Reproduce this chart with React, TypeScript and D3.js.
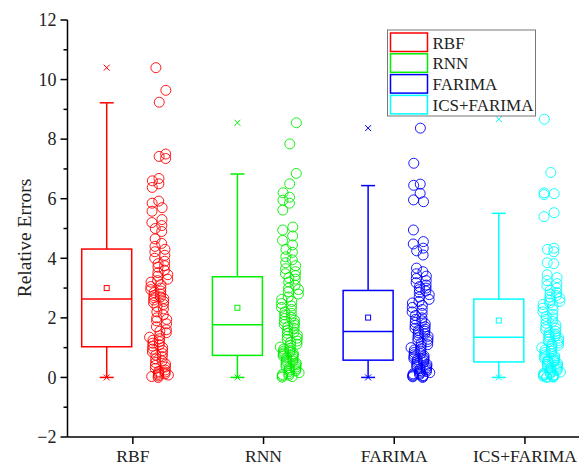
import React from "react";
import * as d3 from "d3";

const categories = ["RBF", "RNN", "FARIMA", "ICS+FARIMA"];
const colors = ["#ff0000", "#00ee00", "#0000ff", "#00ffff"];

// Box statistics
const q1 = [1.03, 0.74, 0.58, 0.52];
const medians = [2.63, 1.77, 1.54, 1.35];
const q3 = [4.31, 3.38, 2.92, 2.63];
const whiskerLow = [0, 0, 0, 0];
const whiskerHigh = [9.22, 6.83, 6.44, 5.51];
const means = [3.0, 2.34, 2.01, 1.91];
const minVals = [0, 0, 0, 0];
const maxVals = [10.4, 8.55, 8.37, 8.67];

const rbfValues = [
  10.4, 9.64, 9.24, 7.5, 7.42, 7.35, 6.68, 6.6, 6.5, 6.38, 5.92, 5.85, 5.7, 5.58, 5.3, 5.2, 5.1, 5.0, 4.9, 4.65, 4.5, 4.4, 4.3, 4.22,
  4.1, 4.0, 3.9, 3.82, 3.75, 3.7, 3.6, 3.52, 3.45, 3.4, 3.3, 3.25, 3.2, 3.12, 3.05, 3.0, 2.95, 2.9, 2.85, 2.8, 2.75, 2.7, 2.68, 2.65,
  2.6, 2.55, 2.5, 2.45, 2.38, 2.3, 2.2, 2.1, 2.0, 1.95, 1.9, 1.8, 1.7, 1.6, 1.55, 1.5, 1.4, 1.35, 1.3, 1.25, 1.2, 1.15, 1.1, 1.05,
  1.0, 0.95, 0.9, 0.85, 0.8, 0.75, 0.7, 0.62, 0.55, 0.5, 0.45, 0.4, 0.35, 0.3, 0.25, 0.2, 0.18, 0.15, 0.12, 0.1, 0.08, 0.05, 0.03, 0.0,
];
const rnnValues = [
  8.55, 7.84, 6.85, 6.5, 6.2, 6.05, 5.95, 5.85, 5.62, 5.05, 4.95, 4.75, 4.6, 4.45, 4.3, 4.2, 4.05, 3.95, 3.85, 3.75, 3.65, 3.55, 3.48, 3.42,
  3.35, 3.3, 3.2, 3.1, 3.0, 2.95, 2.88, 2.8, 2.7, 2.62, 2.55, 2.48, 2.4, 2.35, 2.28, 2.2, 2.15, 2.1, 2.02, 1.98, 1.92, 1.88, 1.82, 1.78,
  1.75, 1.7, 1.65, 1.58, 1.52, 1.48, 1.42, 1.38, 1.32, 1.28, 1.22, 1.18, 1.12, 1.08, 1.02, 0.98, 0.95, 0.9, 0.88, 0.85, 0.82, 0.8, 0.78, 0.75,
  0.72, 0.7, 0.66, 0.62, 0.58, 0.55, 0.52, 0.48, 0.45, 0.42, 0.38, 0.35, 0.32, 0.28, 0.25, 0.22, 0.2, 0.16, 0.13, 0.1, 0.07, 0.05, 0.03, 0.01,
];
const farimaValues = [
  8.37, 7.19, 6.49, 6.45, 6.18, 5.96, 5.9, 4.95, 4.56, 4.48, 4.34, 4.25, 4.11, 3.67, 3.55, 3.48, 3.4, 3.32, 3.25, 3.18, 3.1, 3.05, 3.0, 2.95,
  2.9, 2.85, 2.78, 2.7, 2.62, 2.55, 2.5, 2.42, 2.35, 2.28, 2.2, 2.15, 2.08, 2.0, 1.95, 1.9, 1.85, 1.8, 1.75, 1.7, 1.65, 1.62, 1.58, 1.55,
  1.5, 1.46, 1.42, 1.38, 1.33, 1.28, 1.24, 1.2, 1.15, 1.1, 1.05, 1.0, 0.96, 0.92, 0.88, 0.84, 0.8, 0.76, 0.72, 0.69, 0.66, 0.63, 0.61, 0.59,
  0.56, 0.53, 0.5, 0.47, 0.44, 0.41, 0.38, 0.35, 0.32, 0.29, 0.26, 0.23, 0.2, 0.18, 0.16, 0.14, 0.12, 0.1, 0.08, 0.06, 0.05, 0.03, 0.02, 0.0,
];
const icsValues = [
  8.67, 6.88, 6.2, 6.17, 6.14, 5.53, 5.4, 4.34, 4.3, 4.22, 3.85, 3.82, 3.45, 3.35, 3.25, 3.15, 3.08, 3.0, 2.92, 2.85, 2.8, 2.75, 2.7, 2.66,
  2.6, 2.55, 2.5, 2.45, 2.4, 2.33, 2.27, 2.2, 2.12, 2.05, 2.0, 1.95, 1.88, 1.82, 1.76, 1.7, 1.65, 1.6, 1.55, 1.5, 1.46, 1.42, 1.39, 1.36,
  1.32, 1.28, 1.24, 1.2, 1.16, 1.12, 1.08, 1.04, 1.0, 0.96, 0.92, 0.88, 0.84, 0.8, 0.76, 0.72, 0.69, 0.66, 0.63, 0.6, 0.58, 0.56, 0.54, 0.53,
  0.5, 0.47, 0.44, 0.41, 0.38, 0.35, 0.32, 0.29, 0.26, 0.23, 0.2, 0.18, 0.16, 0.14, 0.12, 0.1, 0.09, 0.07, 0.06, 0.04, 0.03, 0.02, 0.01, 0.0,
];
const seriesValues = [rbfValues, rnnValues, farimaValues, icsValues];

const yTicks = [-2, 0, 2, 4, 6, 8, 10, 12];
const yMinorTicks = [-1, 1, 3, 5, 7, 9, 11];

const W = 579;
const H = 467;
const FONT = "Liberation Serif, Times New Roman, serif";

export default function App() {
  const y = d3.scaleLinear().domain([-2, 12]).range([437, 20]);
  const x = d3.scaleLinear().domain([0.5, 4.5]).range([67.5, 590.3]);
  const boxW = 50;
  const capW = 14;
  const axisX = x(0.5);
  const axisY = y(-2);

  // deterministic horizontal spread of the scatter column (layout only)
  const jitter = (i: number) => ((((i * 73 + 11) % 29) / 28) - 0.5) * 16 + ((i * 7) % 5 - 2) * 0.7;

  return (
    <svg width={W} height={H} style={{ position: "absolute", left: 0, top: 0, background: "#fff", fontFamily: FONT }}>
      <rect x={0} y={0} width={W} height={H} fill="#fff" />
      {categories.map((c, k) => {
        const col = colors[k];
        const cx = x(k + 1 - 0.2);
        const sx = x(k + 1 + 0.2);
        const sq = 2.5;
        const xm = 3;
        return (
          <g key={c}>
            <line x1={cx} x2={cx} y1={y(q3[k])} y2={y(whiskerHigh[k])} stroke={col} strokeWidth={1.5} />
            <line x1={cx} x2={cx} y1={y(q1[k])} y2={y(whiskerLow[k])} stroke={col} strokeWidth={1.5} />
            <line x1={cx - capW / 2} x2={cx + capW / 2} y1={y(whiskerHigh[k])} y2={y(whiskerHigh[k])} stroke={col} strokeWidth={1.5} />
            <line x1={cx - capW / 2} x2={cx + capW / 2} y1={y(whiskerLow[k])} y2={y(whiskerLow[k])} stroke={col} strokeWidth={1.5} />
            <rect x={cx - boxW / 2} y={y(q3[k])} width={boxW} height={y(q1[k]) - y(q3[k])} fill="none" stroke={col} strokeWidth={1.5} />
            <line x1={cx - boxW / 2} x2={cx + boxW / 2} y1={y(medians[k])} y2={y(medians[k])} stroke={col} strokeWidth={1.5} />
            <rect x={cx - sq} y={y(means[k]) - sq} width={sq * 2} height={sq * 2} fill="none" stroke={col} strokeWidth={1} />
            {[maxVals[k], minVals[k]].map((v, j) => (
              <g key={j} stroke={col} strokeWidth={1}>
                <line x1={cx - xm} x2={cx + xm} y1={y(v) - xm} y2={y(v) + xm} />
                <line x1={cx - xm} x2={cx + xm} y1={y(v) + xm} y2={y(v) - xm} />
              </g>
            ))}
            {seriesValues[k].map((v, i) => (
              <circle key={i} cx={sx + jitter(i + k * 3)} cy={y(v)} r={5} fill="none" stroke={col} strokeWidth={0.9} />
            ))}
          </g>
        );
      })}
      <g stroke="#000" strokeWidth={1.5}>
        <line x1={axisX} x2={axisX} y1={y(12)} y2={axisY} />
        <line x1={axisX} x2={W} y1={axisY} y2={axisY} />
        {yTicks.map((t) => (
          <line key={t} x1={axisX - 7} x2={axisX} y1={y(t)} y2={y(t)} />
        ))}
        {yMinorTicks.map((t) => (
          <line key={t} x1={axisX - 4} x2={axisX} y1={y(t)} y2={y(t)} />
        ))}
        {categories.map((c, k) => (
          <line key={c} x1={x(k + 1)} x2={x(k + 1)} y1={axisY} y2={axisY + 7} />
        ))}
      </g>
      {yTicks.map((t) => (
        <text key={t} x={axisX - 11} y={y(t)} dy="0.35em" textAnchor="end" fontSize={18} fill="#222" fontFamily={FONT}>
          {t < 0 ? "\u2212" + Math.abs(t) : t}
        </text>
      ))}
      {categories.map((c, k) => (
        <text key={c} x={x(k + 1)} y={462} textAnchor="middle" fontSize={17.5} fill="#222" fontFamily={FONT}>
          {c}
        </text>
      ))}
      <text transform={`translate(31,238) rotate(-90)`} textAnchor="middle" fontSize={19.5} fill="#222" fontFamily={FONT}>
        Relative Errors
      </text>
      <rect x={387.5} y={30} width={148} height={86} fill="#fff" stroke="#777" strokeWidth={1} />
      {categories.map((c, k) => (
        <g key={c}>
          <rect x={390.5} y={33 + k * 20.8} width={37} height={18.5} fill="none" stroke={colors[k]} strokeWidth={1.5} />
          <text x={432.5} y={48.5 + k * 20.8} fontSize={17} fill="#222" fontFamily={FONT}>
            {c}
          </text>
        </g>
      ))}
    </svg>
  );
}
